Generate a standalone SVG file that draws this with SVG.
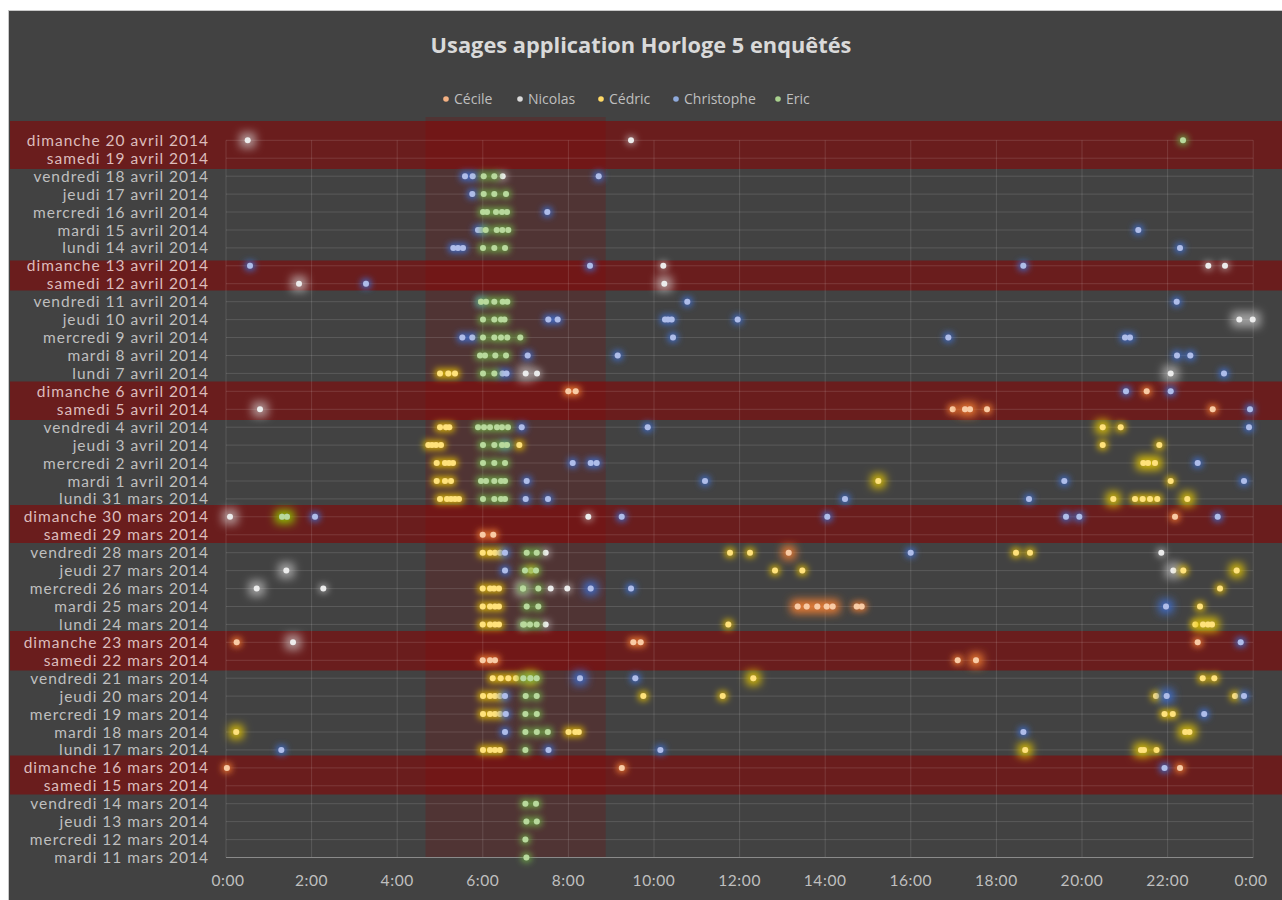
<svg xmlns="http://www.w3.org/2000/svg" width="1282" height="900" viewBox="0 0 1282 900">
  <style>
    .ttl{font:bold 21.8px "Open Sans","Liberation Sans",sans-serif;fill:#d9d9d9;text-anchor:middle}
    .lg{font:14px "Open Sans","Liberation Sans",sans-serif;fill:#bfbfbf}
    .yl{font:15.5px Lato,"Liberation Sans",sans-serif;letter-spacing:1px;fill:#bfbfbf;text-anchor:end}
    .yl .wk{fill:#dcbcbc}
    .xl{font:15.5px Lato,"Liberation Sans",sans-serif;letter-spacing:.6px;fill:#bfbfbf;text-anchor:middle}
    .grid line{stroke:#ffffff;stroke-opacity:.13;stroke-width:1}
    .band{fill:#8c0000;fill-opacity:.55}
    .pts circle{r:3px}
  </style>
  <defs>
    <!-- soft halo around each marker, one per series, normal and strong -->
    <filter id="glowC" filterUnits="userSpaceOnUse" x="0" y="0" width="1282" height="900">
      <feMorphology in="SourceAlpha" operator="dilate" radius="2" result="d"/>
      <feGaussianBlur in="d" stdDeviation="3" result="b"/>
      <feFlood flood-color="#ed7d31" flood-opacity=".9"/>
      <feComposite in2="b" operator="in" result="g"/>
      <feMerge><feMergeNode in="g"/><feMergeNode in="SourceGraphic"/></feMerge>
    </filter>
    <filter id="glowCb" filterUnits="userSpaceOnUse" x="0" y="0" width="1282" height="900">
      <feMorphology in="SourceAlpha" operator="dilate" radius="4" result="d"/>
      <feGaussianBlur in="d" stdDeviation="4.2" result="b"/>
      <feFlood flood-color="#ed7d31" flood-opacity=".95"/>
      <feComposite in2="b" operator="in" result="g"/>
      <feMerge><feMergeNode in="g"/><feMergeNode in="SourceGraphic"/></feMerge>
    </filter>
    <filter id="glowN" filterUnits="userSpaceOnUse" x="0" y="0" width="1282" height="900">
      <feMorphology in="SourceAlpha" operator="dilate" radius="2" result="d"/>
      <feGaussianBlur in="d" stdDeviation="3" result="b"/>
      <feFlood flood-color="#d0d0d0" flood-opacity=".5"/>
      <feComposite in2="b" operator="in" result="g"/>
      <feMerge><feMergeNode in="g"/><feMergeNode in="SourceGraphic"/></feMerge>
    </filter>
    <filter id="glowNb" filterUnits="userSpaceOnUse" x="0" y="0" width="1282" height="900">
      <feMorphology in="SourceAlpha" operator="dilate" radius="4.5" result="d"/>
      <feGaussianBlur in="d" stdDeviation="4.4" result="b"/>
      <feFlood flood-color="#d8d8d8" flood-opacity=".6"/>
      <feComposite in2="b" operator="in" result="g"/>
      <feMerge><feMergeNode in="g"/><feMergeNode in="SourceGraphic"/></feMerge>
    </filter>
    <filter id="glowY" filterUnits="userSpaceOnUse" x="0" y="0" width="1282" height="900">
      <feMorphology in="SourceAlpha" operator="dilate" radius="2" result="d"/>
      <feGaussianBlur in="d" stdDeviation="3" result="b"/>
      <feFlood flood-color="#e6c000" flood-opacity=".85"/>
      <feComposite in2="b" operator="in" result="g"/>
      <feMerge><feMergeNode in="g"/><feMergeNode in="SourceGraphic"/></feMerge>
    </filter>
    <filter id="glowYb" filterUnits="userSpaceOnUse" x="0" y="0" width="1282" height="900">
      <feMorphology in="SourceAlpha" operator="dilate" radius="4" result="d"/>
      <feGaussianBlur in="d" stdDeviation="4.2" result="b"/>
      <feFlood flood-color="#e6c800" flood-opacity=".9"/>
      <feComposite in2="b" operator="in" result="g"/>
      <feMerge><feMergeNode in="g"/><feMergeNode in="SourceGraphic"/></feMerge>
    </filter>
    <filter id="glowB" filterUnits="userSpaceOnUse" x="0" y="0" width="1282" height="900">
      <feMorphology in="SourceAlpha" operator="dilate" radius="2" result="d"/>
      <feGaussianBlur in="d" stdDeviation="3" result="b"/>
      <feFlood flood-color="#3f6fd0" flood-opacity=".9"/>
      <feComposite in2="b" operator="in" result="g"/>
      <feMerge><feMergeNode in="g"/><feMergeNode in="SourceGraphic"/></feMerge>
    </filter>
    <filter id="glowBb" filterUnits="userSpaceOnUse" x="0" y="0" width="1282" height="900">
      <feMorphology in="SourceAlpha" operator="dilate" radius="4" result="d"/>
      <feGaussianBlur in="d" stdDeviation="4.2" result="b"/>
      <feFlood flood-color="#3f6fd0" flood-opacity=".95"/>
      <feComposite in2="b" operator="in" result="g"/>
      <feMerge><feMergeNode in="g"/><feMergeNode in="SourceGraphic"/></feMerge>
    </filter>
    <filter id="glowG" filterUnits="userSpaceOnUse" x="0" y="0" width="1282" height="900">
      <feMorphology in="SourceAlpha" operator="dilate" radius="2" result="d"/>
      <feGaussianBlur in="d" stdDeviation="3" result="b"/>
      <feFlood flood-color="#70ad47" flood-opacity=".85"/>
      <feComposite in2="b" operator="in" result="g"/>
      <feMerge><feMergeNode in="g"/><feMergeNode in="SourceGraphic"/></feMerge>
    </filter>
    <filter id="glowGb" filterUnits="userSpaceOnUse" x="0" y="0" width="1282" height="900">
      <feMorphology in="SourceAlpha" operator="dilate" radius="4" result="d"/>
      <feGaussianBlur in="d" stdDeviation="4.2" result="b"/>
      <feFlood flood-color="#8fc000" flood-opacity=".95"/>
      <feComposite in2="b" operator="in" result="g"/>
      <feMerge><feMergeNode in="g"/><feMergeNode in="SourceGraphic"/></feMerge>
    </filter>
  </defs>

  <!-- page and chart area -->
  <rect width="1282" height="900" fill="#ffffff"/>
  <rect id="chart-area" x="8.5" y="10.5" width="1280" height="895" fill="#424242" stroke="#c8c8c8"/>

  <!-- title and legend -->
  <g id="title"><text class="ttl" x="641" y="53">Usages application Horloge 5 enquêtés</text></g>
  <g id="legend">
    <circle cx="446" cy="99" r="2.8" fill="#f4b183"/><text class="lg" x="454" y="104">Cécile</text>
    <circle cx="520" cy="99" r="2.8" fill="#d9d9d9"/><text class="lg" x="528" y="104">Nicolas</text>
    <circle cx="601" cy="99" r="2.8" fill="#ffd966"/><text class="lg" x="609" y="104">Cédric</text>
    <circle cx="676" cy="99" r="2.8" fill="#8faadc"/><text class="lg" x="684" y="104">Christophe</text>
    <circle cx="778" cy="99" r="2.8" fill="#a9d18e"/><text class="lg" x="786" y="104">Eric</text>
  </g>

  <!-- morning time window -->
  <rect id="morning" x="425.5" y="117" width="180.2" height="741" fill="#8c0000" fill-opacity=".2"/>

  <!-- weekend bands -->
  <g id="weekends">
    <rect class="band" x="10" y="121" width="1272" height="48"/>
    <rect class="band" x="10" y="260.5" width="1272" height="30"/>
    <rect class="band" x="10" y="381.5" width="1272" height="38.5"/>
    <rect class="band" x="10" y="505" width="1272" height="38"/>
    <rect class="band" x="10" y="631" width="1272" height="39.5"/>
    <rect class="band" x="10" y="755.5" width="1272" height="39"/>
  </g>

  <!-- gridlines -->
  <g id="grid" class="grid">
    <line x1="226" y1="140.3" x2="1253.2" y2="140.3"/><line x1="226" y1="158.2" x2="1253.2" y2="158.2"/>
    <line x1="226" y1="176.2" x2="1253.2" y2="176.2"/><line x1="226" y1="194.1" x2="1253.2" y2="194.1"/>
    <line x1="226" y1="212" x2="1253.2" y2="212"/><line x1="226" y1="230" x2="1253.2" y2="230"/>
    <line x1="226" y1="247.9" x2="1253.2" y2="247.9"/><line x1="226" y1="265.8" x2="1253.2" y2="265.8"/>
    <line x1="226" y1="283.7" x2="1253.2" y2="283.7"/><line x1="226" y1="301.7" x2="1253.2" y2="301.7"/>
    <line x1="226" y1="319.6" x2="1253.2" y2="319.6"/><line x1="226" y1="337.5" x2="1253.2" y2="337.5"/>
    <line x1="226" y1="355.5" x2="1253.2" y2="355.5"/><line x1="226" y1="373.4" x2="1253.2" y2="373.4"/>
    <line x1="226" y1="391.3" x2="1253.2" y2="391.3"/><line x1="226" y1="409.3" x2="1253.2" y2="409.3"/>
    <line x1="226" y1="427.2" x2="1253.2" y2="427.2"/><line x1="226" y1="445.1" x2="1253.2" y2="445.1"/>
    <line x1="226" y1="463" x2="1253.2" y2="463"/><line x1="226" y1="481" x2="1253.2" y2="481"/>
    <line x1="226" y1="498.9" x2="1253.2" y2="498.9"/><line x1="226" y1="516.8" x2="1253.2" y2="516.8"/>
    <line x1="226" y1="534.8" x2="1253.2" y2="534.8"/><line x1="226" y1="552.7" x2="1253.2" y2="552.7"/>
    <line x1="226" y1="570.6" x2="1253.2" y2="570.6"/><line x1="226" y1="588.6" x2="1253.2" y2="588.6"/>
    <line x1="226" y1="606.5" x2="1253.2" y2="606.5"/><line x1="226" y1="624.4" x2="1253.2" y2="624.4"/>
    <line x1="226" y1="642.3" x2="1253.2" y2="642.3"/><line x1="226" y1="660.3" x2="1253.2" y2="660.3"/>
    <line x1="226" y1="678.2" x2="1253.2" y2="678.2"/><line x1="226" y1="696.1" x2="1253.2" y2="696.1"/>
    <line x1="226" y1="714.1" x2="1253.2" y2="714.1"/><line x1="226" y1="732" x2="1253.2" y2="732"/>
    <line x1="226" y1="749.9" x2="1253.2" y2="749.9"/><line x1="226" y1="767.9" x2="1253.2" y2="767.9"/>
    <line x1="226" y1="785.8" x2="1253.2" y2="785.8"/><line x1="226" y1="803.7" x2="1253.2" y2="803.7"/>
    <line x1="226" y1="821.6" x2="1253.2" y2="821.6"/><line x1="226" y1="839.6" x2="1253.2" y2="839.6"/>
    <line x1="226" y1="140.3" x2="226" y2="857.5"/><line x1="311.6" y1="140.3" x2="311.6" y2="857.5"/>
    <line x1="397.2" y1="140.3" x2="397.2" y2="857.5"/><line x1="482.8" y1="140.3" x2="482.8" y2="857.5"/>
    <line x1="568.4" y1="140.3" x2="568.4" y2="857.5"/><line x1="654" y1="140.3" x2="654" y2="857.5"/>
    <line x1="739.6" y1="140.3" x2="739.6" y2="857.5"/><line x1="825.2" y1="140.3" x2="825.2" y2="857.5"/>
    <line x1="910.8" y1="140.3" x2="910.8" y2="857.5"/><line x1="996.4" y1="140.3" x2="996.4" y2="857.5"/>
    <line x1="1082" y1="140.3" x2="1082" y2="857.5"/><line x1="1167.6" y1="140.3" x2="1167.6" y2="857.5"/>
    <line x1="1253.2" y1="140.3" x2="1253.2" y2="857.5"/>
  </g>
  <line id="x-axis" x1="226" y1="857.5" x2="1253.2" y2="857.5" stroke="#8a8a8a" stroke-width="1.2"/>

  <!-- day labels -->
  <g id="y-labels" class="yl">
    <text class="wk" x="209" y="145.8">dimanche 20 avril 2014</text>
    <text class="wk" x="209" y="163.7">samedi 19 avril 2014</text>
    <text x="209" y="181.7">vendredi 18 avril 2014</text>
    <text x="209" y="199.6">jeudi 17 avril 2014</text>
    <text x="209" y="217.5">mercredi 16 avril 2014</text>
    <text x="209" y="235.5">mardi 15 avril 2014</text>
    <text x="209" y="253.4">lundi 14 avril 2014</text>
    <text class="wk" x="209" y="271.3">dimanche 13 avril 2014</text>
    <text class="wk" x="209" y="289.2">samedi 12 avril 2014</text>
    <text x="209" y="307.2">vendredi 11 avril 2014</text>
    <text x="209" y="325.1">jeudi 10 avril 2014</text>
    <text x="209" y="343">mercredi 9 avril 2014</text>
    <text x="209" y="361">mardi 8 avril 2014</text>
    <text x="209" y="378.9">lundi 7 avril 2014</text>
    <text class="wk" x="209" y="396.8">dimanche 6 avril 2014</text>
    <text class="wk" x="209" y="414.8">samedi 5 avril 2014</text>
    <text x="209" y="432.7">vendredi 4 avril 2014</text>
    <text x="209" y="450.6">jeudi 3 avril 2014</text>
    <text x="209" y="468.5">mercredi 2 avril 2014</text>
    <text x="209" y="486.5">mardi 1 avril 2014</text>
    <text x="209" y="504.4">lundi 31 mars 2014</text>
    <text class="wk" x="209" y="522.3">dimanche 30 mars 2014</text>
    <text class="wk" x="209" y="540.3">samedi 29 mars 2014</text>
    <text x="209" y="558.2">vendredi 28 mars 2014</text>
    <text x="209" y="576.1">jeudi 27 mars 2014</text>
    <text x="209" y="594.1">mercredi 26 mars 2014</text>
    <text x="209" y="612">mardi 25 mars 2014</text>
    <text x="209" y="629.9">lundi 24 mars 2014</text>
    <text class="wk" x="209" y="647.8">dimanche 23 mars 2014</text>
    <text class="wk" x="209" y="665.8">samedi 22 mars 2014</text>
    <text x="209" y="683.7">vendredi 21 mars 2014</text>
    <text x="209" y="701.6">jeudi 20 mars 2014</text>
    <text x="209" y="719.6">mercredi 19 mars 2014</text>
    <text x="209" y="737.5">mardi 18 mars 2014</text>
    <text x="209" y="755.4">lundi 17 mars 2014</text>
    <text class="wk" x="209" y="773.4">dimanche 16 mars 2014</text>
    <text class="wk" x="209" y="791.3">samedi 15 mars 2014</text>
    <text x="209" y="809.2">vendredi 14 mars 2014</text>
    <text x="209" y="827.1">jeudi 13 mars 2014</text>
    <text x="209" y="845.1">mercredi 12 mars 2014</text>
    <text x="209" y="863">mardi 11 mars 2014</text>
  </g>

  <!-- hour labels -->
  <g id="x-labels" class="xl">
    <text x="228" y="886">0:00</text><text x="311.6" y="886">2:00</text><text x="397.2" y="886">4:00</text>
    <text x="482.8" y="886">6:00</text><text x="568.4" y="886">8:00</text><text x="654" y="886">10:00</text>
    <text x="739.6" y="886">12:00</text><text x="825.2" y="886">14:00</text><text x="910.8" y="886">16:00</text>
    <text x="996.4" y="886">18:00</text><text x="1082" y="886">20:00</text><text x="1167.6" y="886">22:00</text>
    <text x="1251" y="886">0:00</text>
  </g>

  <!-- series: Cécile -->
  <g id="cecile" class="pts" fill="#f9cba4" filter="url(#glowC)">
    <circle cx="568.3" cy="391.3"/><circle cx="575.7" cy="391.3"/><circle cx="1146.7" cy="391.3"/>
    <circle cx="952.7" cy="409.3"/><circle cx="987" cy="409.3"/><circle cx="1212.7" cy="409.3"/>
    <circle cx="1175" cy="516.8"/>
    <circle cx="482.7" cy="534.8"/><circle cx="493.3" cy="534.8"/>
    <circle cx="856.7" cy="606.5"/><circle cx="861.7" cy="606.5"/>
    <circle cx="236.7" cy="642.3"/><circle cx="633.3" cy="642.3"/><circle cx="640.7" cy="642.3"/><circle cx="1197.7" cy="642.3"/>
    <circle cx="482.7" cy="660.3"/><circle cx="490" cy="660.3"/><circle cx="495" cy="660.3"/><circle cx="957.7" cy="660.3"/>
    <circle cx="226.9" cy="767.9"/><circle cx="621.8" cy="767.9"/><circle cx="1180" cy="767.9"/>
  </g>
  <g id="cecile-strong" class="pts" fill="#f9cba4" filter="url(#glowCb)">
    <circle cx="965" cy="409.3"/><circle cx="970" cy="409.3"/>
    <circle cx="788.7" cy="552.7"/>
    <circle cx="797.7" cy="606.5"/><circle cx="806.7" cy="606.5"/><circle cx="817.3" cy="606.5"/><circle cx="826.7" cy="606.5"/><circle cx="832.7" cy="606.5"/>
    <circle cx="976" cy="660.3"/>
  </g>

  <!-- series: Nicolas -->
  <g id="nicolas" class="pts" fill="#ececec" filter="url(#glowN)">
    <circle cx="631" cy="140.3"/>
    <circle cx="502.7" cy="176.2"/>
    <circle cx="663.3" cy="265.8"/><circle cx="1208.3" cy="265.8"/><circle cx="1225" cy="265.8"/>
    <circle cx="537" cy="373.4"/>
    <circle cx="588.3" cy="516.8"/>
    <circle cx="545.7" cy="552.7"/><circle cx="1161.3" cy="552.7"/>
    <circle cx="323.3" cy="588.6"/><circle cx="550.7" cy="588.6"/><circle cx="567.3" cy="588.6"/>
    <circle cx="523" cy="624.4"/><circle cx="545.7" cy="624.4"/>
  </g>
  <g id="nicolas-strong" class="pts" fill="#ececec" filter="url(#glowNb)">
    <circle cx="247.7" cy="140.3"/>
    <circle cx="299" cy="283.7"/><circle cx="664.3" cy="283.7"/>
    <circle cx="1239.3" cy="319.6"/><circle cx="1252.7" cy="319.6"/>
    <circle cx="525.7" cy="373.4"/><circle cx="1170.7" cy="373.4"/>
    <circle cx="260" cy="409.3"/>
    <circle cx="230" cy="516.8"/>
    <circle cx="286.3" cy="570.6"/><circle cx="1173.3" cy="570.6"/>
    <circle cx="256.7" cy="588.6"/><circle cx="523" cy="588.6"/>
    <circle cx="293" cy="642.3"/>
  </g>

  <!-- series: Cédric -->
  <g id="cedric" class="pts" fill="#ffe27a" filter="url(#glowY)">
    <circle cx="440" cy="373.4"/><circle cx="448.3" cy="373.4"/><circle cx="455" cy="373.4"/>
    <circle cx="440" cy="427.2"/><circle cx="446" cy="427.2"/><circle cx="449.3" cy="427.2"/><circle cx="1120.7" cy="427.2"/>
    <circle cx="428.3" cy="445.1"/><circle cx="432" cy="445.1"/><circle cx="436" cy="445.1"/><circle cx="441" cy="445.1"/><circle cx="519.3" cy="445.1"/><circle cx="1102.7" cy="445.1"/><circle cx="1159.3" cy="445.1"/>
    <circle cx="436.7" cy="463"/><circle cx="445" cy="463"/><circle cx="449" cy="463"/><circle cx="453" cy="463"/>
    <circle cx="436.7" cy="481"/><circle cx="445" cy="481"/><circle cx="451" cy="481"/><circle cx="1170.7" cy="481"/>
    <circle cx="440" cy="498.9"/><circle cx="447" cy="498.9"/><circle cx="451" cy="498.9"/><circle cx="455" cy="498.9"/><circle cx="459" cy="498.9"/>
    <circle cx="1135" cy="498.9"/><circle cx="1142.7" cy="498.9"/><circle cx="1150" cy="498.9"/><circle cx="1157.3" cy="498.9"/>
    <circle cx="482.7" cy="552.7"/><circle cx="490" cy="552.7"/><circle cx="495" cy="552.7"/><circle cx="500" cy="552.7"/><circle cx="730" cy="552.7"/><circle cx="750" cy="552.7"/><circle cx="1016" cy="552.7"/><circle cx="1030" cy="552.7"/>
    <circle cx="531" cy="570.6"/><circle cx="775" cy="570.6"/><circle cx="802.3" cy="570.6"/><circle cx="1183.3" cy="570.6"/>
    <circle cx="482.7" cy="588.6"/><circle cx="490" cy="588.6"/><circle cx="494" cy="588.6"/><circle cx="499" cy="588.6"/><circle cx="1220" cy="588.6"/>
    <circle cx="482.7" cy="606.5"/><circle cx="490" cy="606.5"/><circle cx="495" cy="606.5"/><circle cx="499" cy="606.5"/><circle cx="1200" cy="606.5"/>
    <circle cx="482.7" cy="624.4"/><circle cx="490" cy="624.4"/><circle cx="495" cy="624.4"/><circle cx="499" cy="624.4"/><circle cx="728.3" cy="624.4"/><circle cx="1195.3" cy="624.4"/>
    <circle cx="492.7" cy="678.2"/><circle cx="500.7" cy="678.2"/><circle cx="508.3" cy="678.2"/><circle cx="516" cy="678.2"/><circle cx="1202.7" cy="678.2"/><circle cx="1214.3" cy="678.2"/>
    <circle cx="483" cy="696.1"/><circle cx="490" cy="696.1"/><circle cx="495" cy="696.1"/><circle cx="500" cy="696.1"/><circle cx="643.3" cy="696.1"/><circle cx="722.7" cy="696.1"/><circle cx="1156" cy="696.1"/><circle cx="1235" cy="696.1"/>
    <circle cx="483" cy="714.1"/><circle cx="490" cy="714.1"/><circle cx="495" cy="714.1"/><circle cx="500" cy="714.1"/><circle cx="1164.5" cy="714.1"/><circle cx="1172.8" cy="714.1"/>
    <circle cx="568.5" cy="732"/><circle cx="575.3" cy="732"/><circle cx="578.8" cy="732"/>
    <circle cx="483" cy="749.9"/><circle cx="490" cy="749.9"/><circle cx="495" cy="749.9"/><circle cx="500" cy="749.9"/><circle cx="1156.5" cy="749.9"/>
  </g>
  <g id="cedric-strong" class="pts" fill="#ffe27a" filter="url(#glowYb)">
    <circle cx="1102.7" cy="427.2"/>
    <circle cx="1143.3" cy="463"/><circle cx="1148" cy="463"/><circle cx="1155" cy="463"/>
    <circle cx="878.3" cy="481"/>
    <circle cx="1113.3" cy="498.9"/><circle cx="1187.3" cy="498.9"/>
    <circle cx="1236.7" cy="570.6"/>
    <circle cx="1203" cy="624.4"/><circle cx="1208" cy="624.4"/><circle cx="1212" cy="624.4"/>
    <circle cx="530" cy="678.2"/><circle cx="753.3" cy="678.2"/>
    <circle cx="236.2" cy="732"/><circle cx="1185.2" cy="732"/><circle cx="1189.4" cy="732"/>
    <circle cx="1025.2" cy="749.9"/><circle cx="1141" cy="749.9"/><circle cx="1144" cy="749.9"/>
  </g>

  <!-- series: Christophe -->
  <g id="christophe" class="pts" fill="#aebdea" filter="url(#glowB)">
    <circle cx="465" cy="176.2"/><circle cx="472.7" cy="176.2"/><circle cx="598.7" cy="176.2"/>
    <circle cx="472.3" cy="194.1"/>
    <circle cx="547.3" cy="212"/>
    <circle cx="478" cy="230"/><circle cx="481" cy="230"/><circle cx="1138.3" cy="230"/>
    <circle cx="453.3" cy="247.9"/><circle cx="458" cy="247.9"/><circle cx="463" cy="247.9"/><circle cx="1180" cy="247.9"/>
    <circle cx="250" cy="265.8"/><circle cx="590" cy="265.8"/><circle cx="1023.3" cy="265.8"/>
    <circle cx="366" cy="283.7"/>
    <circle cx="481" cy="301.7"/><circle cx="687.3" cy="301.7"/><circle cx="1176.7" cy="301.7"/>
    <circle cx="548.3" cy="319.6"/><circle cx="557.7" cy="319.6"/><circle cx="665" cy="319.6"/><circle cx="668" cy="319.6"/><circle cx="671.7" cy="319.6"/><circle cx="737.7" cy="319.6"/>
    <circle cx="462.3" cy="337.5"/><circle cx="472.3" cy="337.5"/><circle cx="673" cy="337.5"/><circle cx="948.3" cy="337.5"/><circle cx="1125" cy="337.5"/><circle cx="1130" cy="337.5"/>
    <circle cx="527.7" cy="355.5"/><circle cx="617.7" cy="355.5"/><circle cx="1177" cy="355.5"/><circle cx="1190.3" cy="355.5"/>
    <circle cx="502.5" cy="373.4"/><circle cx="506.5" cy="373.4"/><circle cx="1224" cy="373.4"/>
    <circle cx="1126" cy="391.3"/><circle cx="1170.7" cy="391.3"/>
    <circle cx="1250" cy="409.3"/>
    <circle cx="521.7" cy="427.2"/><circle cx="647.7" cy="427.2"/><circle cx="1249" cy="427.2"/>
    <circle cx="505" cy="445.1"/>
    <circle cx="572.7" cy="463"/><circle cx="590.7" cy="463"/><circle cx="596.7" cy="463"/><circle cx="1197.7" cy="463"/>
    <circle cx="526.7" cy="481"/><circle cx="705" cy="481"/><circle cx="1064.3" cy="481"/><circle cx="1244" cy="481"/>
    <circle cx="525.7" cy="498.9"/><circle cx="548" cy="498.9"/><circle cx="845" cy="498.9"/><circle cx="1029" cy="498.9"/>
    <circle cx="315" cy="516.8"/><circle cx="621.7" cy="516.8"/><circle cx="827.3" cy="516.8"/><circle cx="1066" cy="516.8"/><circle cx="1079.3" cy="516.8"/><circle cx="1217.7" cy="516.8"/>
    <circle cx="505" cy="552.7"/><circle cx="910.7" cy="552.7"/>
    <circle cx="505" cy="570.6"/>
    <circle cx="631" cy="588.6"/>
    <circle cx="1240.7" cy="642.3"/>
    <circle cx="635.3" cy="678.2"/>
    <circle cx="505" cy="696.1"/><circle cx="1244" cy="696.1"/>
    <circle cx="505.8" cy="714.1"/><circle cx="1204.2" cy="714.1"/>
    <circle cx="505" cy="732"/><circle cx="1023.4" cy="732"/>
    <circle cx="281.3" cy="749.9"/><circle cx="548.5" cy="749.9"/><circle cx="660.4" cy="749.9"/>
    <circle cx="1164.5" cy="767.9"/>
  </g>
  <g id="christophe-strong" class="pts" fill="#aebdea" filter="url(#glowBb)">
    <circle cx="590.7" cy="588.6"/>
    <circle cx="1166" cy="606.5"/>
    <circle cx="580" cy="678.2"/>
    <circle cx="1166.7" cy="696.1"/>
  </g>

  <!-- series: Eric -->
  <g id="eric" class="pts" fill="#b8d99c" filter="url(#glowG)">
    <circle cx="1183" cy="140.3"/>
    <circle cx="483.7" cy="176.2"/><circle cx="494.3" cy="176.2"/>
    <circle cx="483.7" cy="194.1"/><circle cx="494.3" cy="194.1"/><circle cx="506" cy="194.1"/>
    <circle cx="483" cy="212"/><circle cx="487" cy="212"/><circle cx="496" cy="212"/><circle cx="502" cy="212"/><circle cx="507" cy="212"/>
    <circle cx="485.7" cy="230"/><circle cx="496.7" cy="230"/><circle cx="502.3" cy="230"/><circle cx="508.3" cy="230"/>
    <circle cx="483" cy="247.9"/><circle cx="494.3" cy="247.9"/><circle cx="505" cy="247.9"/>
    <circle cx="481" cy="301.7"/><circle cx="486" cy="301.7"/><circle cx="494.3" cy="301.7"/><circle cx="502.7" cy="301.7"/><circle cx="507.3" cy="301.7"/>
    <circle cx="483" cy="319.6"/><circle cx="494.3" cy="319.6"/><circle cx="501" cy="319.6"/><circle cx="504.5" cy="319.6"/>
    <circle cx="483" cy="337.5"/><circle cx="494.3" cy="337.5"/><circle cx="501" cy="337.5"/><circle cx="507.3" cy="337.5"/><circle cx="520.3" cy="337.5"/>
    <circle cx="480" cy="355.5"/><circle cx="485" cy="355.5"/><circle cx="495.3" cy="355.5"/><circle cx="506" cy="355.5"/>
    <circle cx="483" cy="373.4"/><circle cx="494.3" cy="373.4"/>
    <circle cx="478" cy="427.2"/><circle cx="484" cy="427.2"/><circle cx="490" cy="427.2"/><circle cx="497" cy="427.2"/><circle cx="502" cy="427.2"/><circle cx="508" cy="427.2"/>
    <circle cx="483" cy="445.1"/><circle cx="494.3" cy="445.1"/><circle cx="502" cy="445.1"/><circle cx="507" cy="445.1"/>
    <circle cx="483" cy="463"/><circle cx="494.3" cy="463"/><circle cx="505" cy="463"/>
    <circle cx="481" cy="481"/><circle cx="486" cy="481"/><circle cx="494.3" cy="481"/><circle cx="501" cy="481"/><circle cx="505" cy="481"/>
    <circle cx="483" cy="498.9"/><circle cx="494.3" cy="498.9"/><circle cx="501" cy="498.9"/><circle cx="505" cy="498.9"/>
    <circle cx="526.7" cy="552.7"/><circle cx="536.7" cy="552.7"/>
    <circle cx="525" cy="570.6"/><circle cx="536" cy="570.6"/>
    <circle cx="523" cy="588.6"/><circle cx="538.3" cy="588.6"/>
    <circle cx="526.7" cy="606.5"/><circle cx="538.3" cy="606.5"/>
    <circle cx="524" cy="624.4"/><circle cx="530" cy="624.4"/><circle cx="536.7" cy="624.4"/>
    <circle cx="523.3" cy="678.2"/><circle cx="530.5" cy="678.2"/><circle cx="536.7" cy="678.2"/>
    <circle cx="525.7" cy="696.1"/><circle cx="536.7" cy="696.1"/>
    <circle cx="525.4" cy="714.1"/><circle cx="536.8" cy="714.1"/>
    <circle cx="525.4" cy="732"/><circle cx="536.8" cy="732"/><circle cx="547.8" cy="732"/>
    <circle cx="525.4" cy="749.9"/>
    <circle cx="525.4" cy="803.7"/><circle cx="536" cy="803.7"/>
    <circle cx="526.4" cy="821.6"/><circle cx="536.8" cy="821.6"/>
    <circle cx="525.4" cy="839.6"/>
    <circle cx="526.4" cy="857.5"/>
  </g>
  <g id="eric-strong" class="pts" fill="#b8d99c" filter="url(#glowGb)">
    <circle cx="282" cy="516.8"/><circle cx="287" cy="516.8"/>
  </g>
</svg>
